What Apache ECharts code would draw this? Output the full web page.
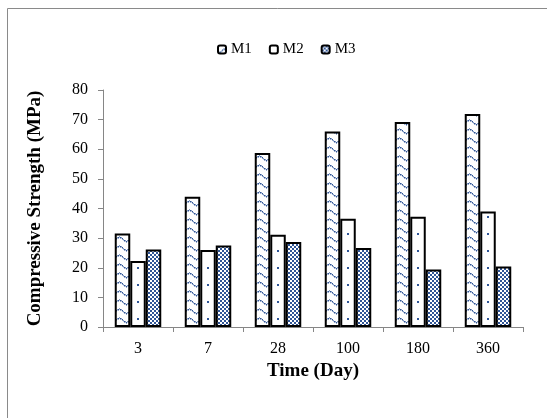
<!DOCTYPE html>
<html><head><meta charset="utf-8">
<script src="https://cdn.jsdelivr.net/npm/echarts@6/dist/echarts.min.js"></script>
<style>html,body{margin:0;padding:0;background:#fff}#c{width:547px;height:418px}</style>
</head><body><div id="c"></div>
<script>
const categories = ['3', '7', '28', '100', '180', '360'];
const seriesNames = ['M1', 'M2', 'M3'];
const m1 = [31.6, 44.0, 58.7, 66.0, 69.2, 71.9];
const m2 = [22.3, 26.0, 31.1, 36.5, 37.2, 39.0];
const m3 = [26.2, 27.5, 28.7, 26.7, 19.4, 20.4];
const yMin = 0, yMax = 80, yInterval = 10;

const GRID_LEFT = 103, CAT_W = 70, N = categories.length;
const BLUE = '#2F5597';
const FONT = '"Liberation Serif", "Times New Roman", serif';

function tile(w, h, draw) {
  const c = document.createElement('canvas');
  c.width = w; c.height = h;
  const g = c.getContext('2d');
  g.fillStyle = '#fff'; g.fillRect(0, 0, w, h);
  draw(g);
  return { image: c, repeat: 'repeat' };
}
// wave / chevron pattern
const waveFill = tile(14, 9, g => {
  g.fillStyle = BLUE;
  for (let x = 0; x < 14; x++) {
    const y = Math.round(7 - (7 - Math.abs(x - 7)) * 5 / 7);
    g.globalAlpha = (x % 2 === 0) ? 1 : 0.6;
    g.fillRect(x, y, 1, 1.5);
  }
  g.globalAlpha = 1;
});
// sparse dots, one column at bar centre
const dotFill = tile(CAT_W, 17, g => {
  g.fillStyle = BLUE;
  const dx = (GRID_LEFT + CAT_W / 2) % CAT_W;
  g.fillRect(dx - 1, 13 - 1, 2, 2);
});
// small checker
const checkFill = tile(4, 4, g => {
  g.fillStyle = BLUE;
  g.fillRect(0, 0, 2, 2);
  g.fillRect(2, 2, 2, 2);
});

const fills = [waveFill, dotFill, checkFill];
const values = [m1, m2, m3];

const chart = echarts.init(document.getElementById('c'), null, { renderer: 'canvas' });
chart.setOption({
  animation: false,
  backgroundColor: '#fff',
  textStyle: { fontFamily: FONT },
  graphic: [{
    type: 'rect', shape: { x: 7.5, y: 8.5, width: 700, height: 600 },
    style: { fill: 'none', stroke: '#8a8a8a', lineWidth: 1 }, silent: true, z: -1
  }],
  legend: {
    top: 37, left: 212, itemWidth: 8, itemHeight: 8, itemGap: 17,
    textStyle: { fontFamily: FONT, fontSize: 15, color: '#000' },
    data: seriesNames
  },
  grid: { left: GRID_LEFT, top: 90, width: CAT_W * N, bottom: 91 },
  xAxis: {
    type: 'category', data: categories,
    name: 'Time (Day)', nameLocation: 'middle', nameGap: 35,
    nameTextStyle: { fontFamily: FONT, fontSize: 19, fontWeight: 'bold', color: '#000' },
    axisLine: { lineStyle: { color: '#868686', width: 1 } },
    axisTick: { show: true, length: 5, lineStyle: { color: '#868686' } },
    axisLabel: { fontFamily: FONT, fontSize: 16, color: '#000', margin: 14 }
  },
  yAxis: {
    type: 'value', min: yMin, max: yMax, interval: yInterval,
    name: 'Compressive Strength (MPa)', nameLocation: 'middle', nameGap: 58, nameRotate: 90,
    nameTextStyle: { fontFamily: FONT, fontSize: 19, fontWeight: 'bold', color: '#000' },
    axisLine: { show: true, lineStyle: { color: '#868686', width: 1 } },
    axisTick: { show: true, length: 5, lineStyle: { color: '#868686' } },
    splitLine: { show: false },
    axisLabel: { fontFamily: FONT, fontSize: 16, color: '#000', margin: 15 }
  },
  series: seriesNames.map((nm, i) => ({
    name: nm, type: 'bar', data: values[i],
    barWidth: 15.5, barGap: '0%',
    itemStyle: { color: fills[i], borderColor: '#000', borderWidth: 2 }
  }))
});
</script></body></html>
